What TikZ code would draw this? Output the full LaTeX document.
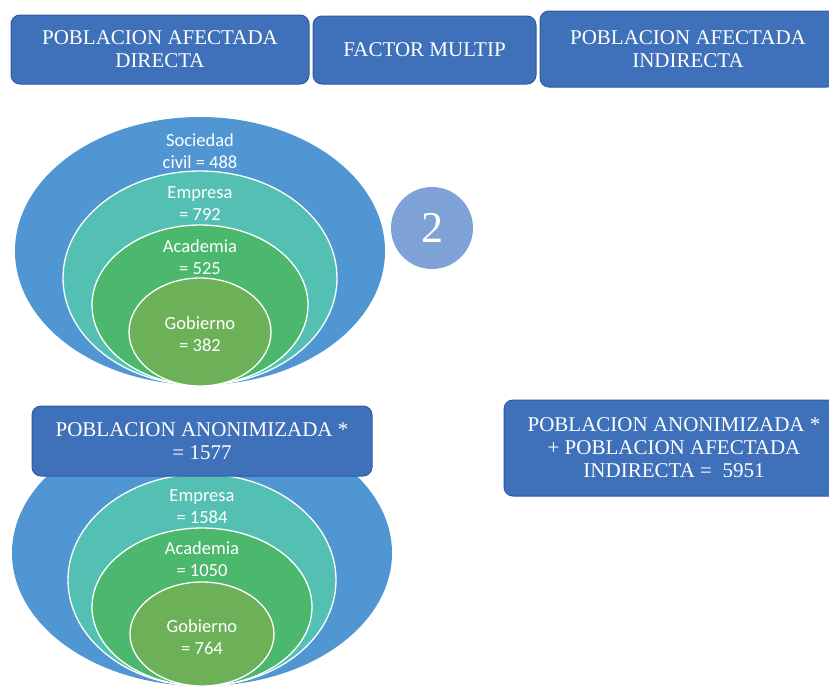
\documentclass[tikz,border=0pt]{standalone}
\usepackage{fontspec}
\setmainfont{Liberation Serif}
\newfontfamily\calib{Carlito}
\usetikzlibrary{shapes.geometric}
\definecolor{boxblue}{HTML}{3E71B9}
\definecolor{boxedge}{HTML}{2F5B9C}
\definecolor{outerblue}{HTML}{4F96D3}
\definecolor{tealc}{HTML}{53C0B3}
\definecolor{greenc}{HTML}{4BB86E}
\definecolor{olivec}{HTML}{6CB157}
\definecolor{circc}{HTML}{7FA2D6}
\begin{document}
\begin{tikzpicture}[x=1pt,y=-1pt,
  hbox/.style={draw=boxedge, fill=boxblue, rounded corners=9pt, text=white,
    font=\fontsize{21}{23}\selectfont, align=center, inner sep=0pt, line width=1pt},
  ell/.style={ellipse, inner sep=0pt, draw=white, line width=1.3pt},
  lab/.style={text=white, font=\calib\fontsize{18.5}{22}\selectfont, align=center, inner sep=0pt}
]
\useasboundingbox (0,0) rectangle (829,686);
\clip (0,0) rectangle (829,686);

% top boxes
\node[hbox, minimum width=298pt, minimum height=69pt] (b1) at (160,49.5) {POBLACION AFECTADA\\DIRECTA};
\node[hbox, minimum width=223pt, minimum height=68pt] (b2) at (424.5,50) {FACTOR MULTIP};
\node[hbox, minimum width=296pt, minimum height=76pt] (b3) at (688,49) {POBLACION AFECTADA\\INDIRECTA};

% top ellipses
\node[ell, draw=none, fill=outerblue, minimum width=370pt, minimum height=268pt] (t1) at (200,251) {};
\node[ell, fill=tealc, minimum width=274pt, minimum height=214pt] (t2) at (200,278) {};
\node[ell, fill=greenc, minimum width=216pt, minimum height=160pt] (t3) at (200,305) {};
\node[ell, fill=olivec, minimum width=142pt, minimum height=108pt] (t4) at (200,332) {};
\node[lab] (tl1) at (200,151) {Sociedad\\civil = 488};
\node[lab] (tl2) at (200,204) {Empresa\\= 792};
\node[lab] (tl3) at (200,257) {Academia\\= 525};
\node[lab] (tl4) at (200,334) {Gobierno\\= 382};

% circle 2
\node[circle, fill=circc, minimum size=82pt, inner sep=0pt, text=white,
  font=\fontsize{44}{48}\selectfont] (c2) at (432,228) {2};

% bottom ellipses
\node[ell, draw=none, fill=outerblue, minimum width=380pt, minimum height=266pt] (u1) at (202,553) {};
\node[ell, fill=tealc, minimum width=268pt, minimum height=212pt] (u2) at (202,580) {};
\node[ell, fill=greenc, minimum width=220pt, minimum height=158pt] (u3) at (202,607) {};
\node[ell, fill=olivec, minimum width=144pt, minimum height=104pt] (u4) at (202,634) {};
\node[lab] (ul2) at (202,506.5) {Empresa\\= 1584};
\node[lab] (ul3) at (202,559.5) {Academia\\= 1050};
\node[lab] (ul4) at (202,637.5) {Gobierno\\= 764};

% bottom boxes
\node[hbox, minimum width=340pt, minimum height=70pt] (b4) at (202,441) {POBLACION ANONIMIZADA *\\= 1577};
\node[hbox, minimum width=340pt, minimum height=96pt] (b5) at (674,448) {POBLACION ANONIMIZADA *\\+ POBLACION AFECTADA\\INDIRECTA =\ \ 5951};
\end{tikzpicture}
\end{document}
